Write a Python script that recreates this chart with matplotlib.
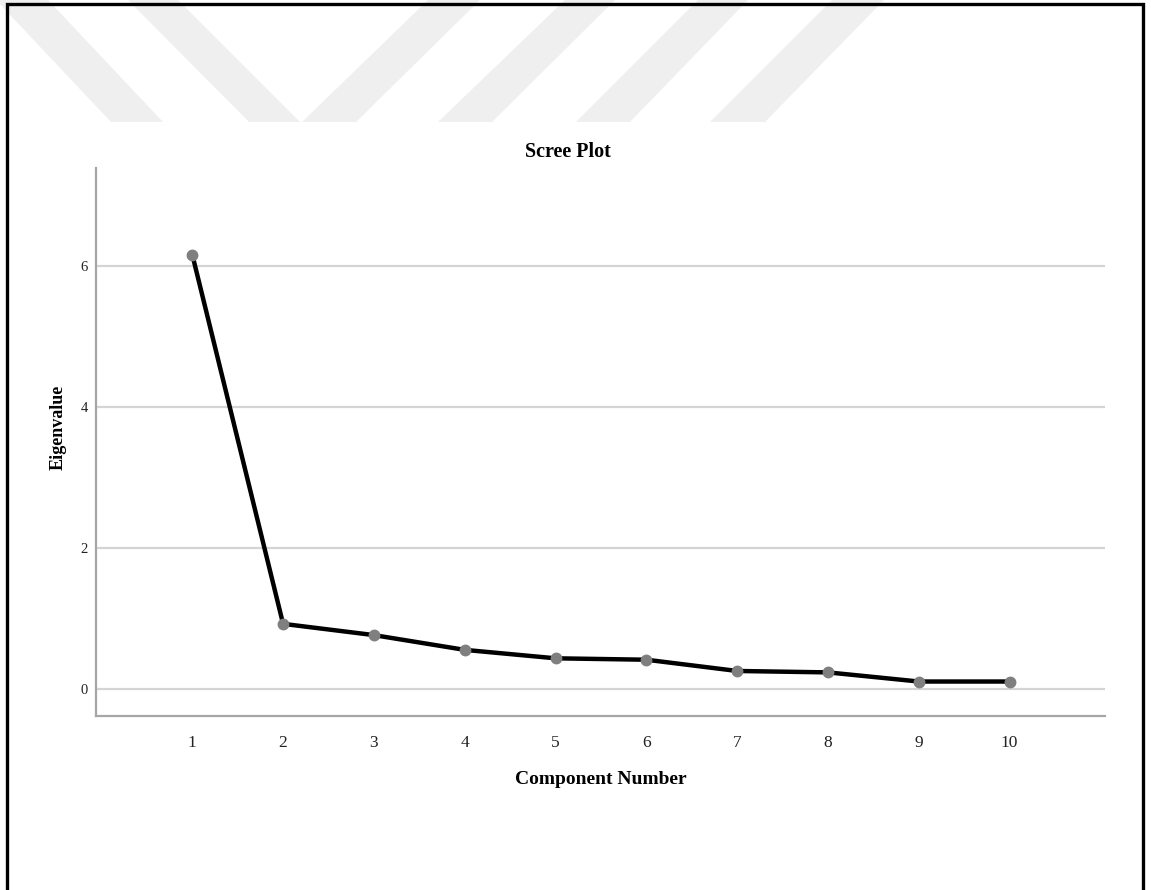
import numpy as np
import matplotlib.pyplot as plt
from matplotlib.patches import Polygon, Rectangle

# Scree plot data
components = [1, 2, 3, 4, 5, 6, 7, 8, 9, 10]
eigenvalues = [6.17, 0.92, 0.76, 0.55, 0.43, 0.41, 0.25, 0.23, 0.10, 0.10]
y_ticks = [0, 2, 4, 6]

W, H = 1151, 890
serif = ['Liberation Serif', 'DejaVu Serif']

fig = plt.figure(figsize=(W/100, H/100), dpi=100)
fig.patch.set_facecolor('white')

# Light watermark stripes at the top (pixel coords, y down)
stripes = [
    [(-4, 0), (48, 0), (163, 122), (111, 122)],
    [(128, 0), (178, 0), (300, 122), (249, 122)],
    [(428, 0), (480, 0), (356, 122), (302, 122)],
    [(565, 0), (615, 0), (492, 122), (438, 122)],
    [(698, 0), (748, 0), (630, 122), (576, 122)],
    [(832, 0), (884, 0), (765, 122), (710, 122)],
]
for s in stripes:
    pts = [(x/W, 1 - y/H) for x, y in s]
    fig.add_artist(Polygon(pts, closed=True, transform=fig.transFigure,
                           facecolor='#efefef', edgecolor='none', zorder=0))

# Axes placement
left, right, top, bottom = 96, 1105, 168, 716
ax = fig.add_axes([left/W, 1 - bottom/H, (right-left)/W, (bottom-top)/H])
ax.set_facecolor('none')

ax.plot(components, eigenvalues, color='black', lw=3.2, zorder=3,
        solid_capstyle='round', solid_joinstyle='round')
ax.plot(components, eigenvalues, 'o', color='#7f7f7f', ms=7.5, zorder=4)

ax.set_xlim(-0.06, 11.05)
ax.set_ylim(-0.39, 7.40)
ax.set_xticks(components)
ax.set_yticks(y_ticks)
for yv in y_ticks:
    ax.axhline(yv, color='#d4d4d4', lw=1.6, zorder=1)

for sp in ['top', 'right']:
    ax.spines[sp].set_visible(False)
for sp in ['left', 'bottom']:
    ax.spines[sp].set_color('#a6a6a6')
    ax.spines[sp].set_linewidth(1.6)

ax.tick_params(axis='both', length=0)
ax.tick_params(axis='x', pad=14, labelsize=12.5, labelcolor='#222222')
ax.tick_params(axis='y', pad=6, labelsize=10.5, labelcolor='#222222')
for lab in ax.get_xticklabels() + ax.get_yticklabels():
    lab.set_family(serif)

# Title sits a little left of the axes centre in the original
ax.set_title('Scree Plot', family=serif, fontweight='bold', fontsize=14.5,
             x=0.468, pad=8)
ax.set_xlabel('Component Number', family=serif, fontweight='bold', fontsize=14, labelpad=14)
ax.set_ylabel('Eigenvalue', family=serif, fontweight='bold', fontsize=13, labelpad=14)
ax.yaxis.set_label_coords(-0.029, 0.526)

# Black frame round the page (open at the bottom)
fig.add_artist(Rectangle((7/W, -0.05), (1143-7)/W, 1.05 - 4/H, transform=fig.transFigure,
                         fill=False, edgecolor='black', lw=2.4, zorder=10))

fig.savefig('out.png', dpi=100)
